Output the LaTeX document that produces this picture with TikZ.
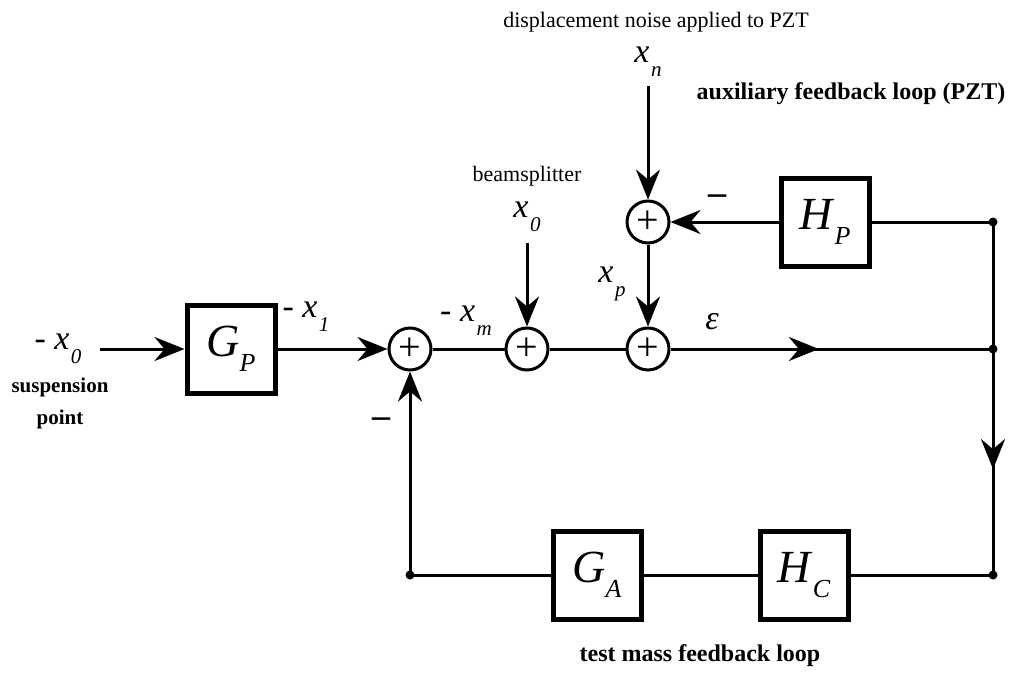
\documentclass[tikz,border=0pt]{standalone}
\usepackage{fontspec}
\setmainfont{Liberation Serif}
\usetikzlibrary{arrows.meta,decorations.markings}
\newcommand{\xv}[2]{\textit{#1}\kern1.5pt\raisebox{-0.42em}{\fontsize{21}{21}\selectfont\textit{#2}}}
\newcommand{\bv}[2]{\textit{#1}\raisebox{-0.32em}{\fontsize{26}{26}\selectfont\textit{#2}}}
\begin{document}
\begin{tikzpicture}[x=1pt,y=-1pt, line width=3pt,
  blk/.style={draw, line width=5pt, minimum width=88pt, minimum height=88pt, inner sep=0pt, font=\fontsize{46}{46}\selectfont},
  sum/.style={draw, circle, line width=3pt, minimum size=42pt, inner sep=0pt, font=\fontsize{40}{40}\selectfont},
  tip/.tip={Stealth[length=30pt,width=24pt,inset=10pt]},
  arr/.style={-tip},
  dot/.style={circle, fill, inner sep=0pt, minimum size=9pt},
  var/.style={font=\fontsize{34}{34}\selectfont, inner sep=0pt},
  lab/.style={font=\fontsize{22}{22}\selectfont, inner sep=0pt},
  blab/.style={font=\fontsize{24}{24}\selectfont\bfseries, inner sep=0pt},
  minus/.style={font=\fontsize{36}{36}\selectfont\bfseries, inner sep=0pt},
  midarr/.style={decoration={markings, mark=at position #1 with {\arrow{tip}}}, postaction={decorate}}]
\useasboundingbox (0,0) rectangle (1014,672);

% summing junctions
\node[sum] (s1) at (410,349) {+};
\node[sum] (s2) at (527,349) {+};
\node[sum] (s3) at (648,349) {+};
\node[sum] (s4) at (648,222) {+};

% blocks
\node[blk] (gp) at (231,349) {\bv{G}{P}};
\node[blk] (hp) at (825,222) {\bv{H}{P}};
\node[blk] (ga) at (597,575) {\bv{G}{A}};
\node[blk] (hc) at (804,575) {\bv{H}{C}};

% junction dots
\node[dot] (r1) at (993,222) {};
\node[dot] (r2) at (993,349) {};
\node[dot] (r3) at (993,575) {};
\node[dot] (l1) at (410,575) {};

% free ends
\coordinate (inL) at (100,349);
\coordinate (bs) at (527,243);
\coordinate (xnc) at (648,86);

% connectors
\draw[arr] (inL) -- (gp.west);
\draw[arr] (gp.east) -- (s1.west);
\draw (s1.east) -- (s2.west);
\draw (s2.east) -- (s3.west);
\draw[midarr=0.46] (s3.east) -- (r2.center);
\draw (hp.east) -- (r1.center);
\draw[arr] (hp.west) -- (s4.east);
\draw[midarr=0.70] (r1.center) -- (r3.center);
\draw (r3.center) -- (hc.east);
\draw (hc.west) -- (ga.east);
\draw (ga.west) -- (l1.center);
\draw[arr] (l1.center) -- (s1.south);
\draw[arr] (xnc) -- (s4.north);
\draw[arr] (s4.south) -- (s3.north);
\draw[arr] (bs) -- (s2.north);

% labels
\node[lab] (tdn) at (656,22) {displacement noise applied to PZT};
\node[var] (txn) at (648,62) {\xv{x}{n}};
\node[blab] (taux) at (851,94) {auxiliary feedback loop (PZT)};
\node[lab] (tbs) at (527,176) {beamsplitter};
\node[var] (tx0b) at (527,217) {\xv{x}{0}};
\node[minus] (tm1) at (717,200) {–};
\node[var] (txp) at (612,284) {\xv{x}{p}};
\node[var] (txm) at (466,321) {- \xv{x}{m}};
\node[var] (teps) at (712,322) {\textit{ε}};
\node[var] (tx1) at (306,317) {- \xv{x}{1}};
\node[var] (tx0) at (58,349) {- \xv{x}{0}};
\node[blab, font=\fontsize{21}{21}\selectfont\bfseries] (tsus) at (60,387) {suspension};
\node[blab, font=\fontsize{21}{21}\selectfont\bfseries] (tpt) at (60,419) {point};
\node[minus] (tm2) at (381,423) {–};
\node[blab] (ttm) at (700,656) {test mass feedback loop};
\end{tikzpicture}
\end{document}
